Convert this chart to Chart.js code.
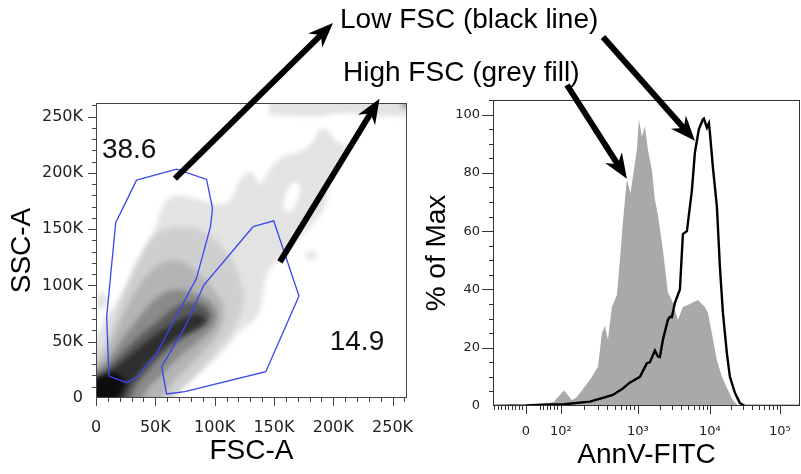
<!DOCTYPE html>
<html>
<head>
<meta charset="utf-8">
<title>FSC gating and AnnV-FITC</title>
<script src="https://cdn.jsdelivr.net/npm/chart.js@4.4.1/dist/chart.umd.min.js"></script>
<style>
  html, body { margin: 0; padding: 0; background: #fff; }
  #wrap { position: relative; width: 801px; height: 474px; overflow: hidden; }
  #wrap canvas { position: absolute; top: 0; }
  #scatter { left: 0; }
  #hist { left: 420px; }
  #overlay { left: 0; pointer-events: none; }
</style>
</head>
<body>
<div id="wrap">
  <canvas id="scatter" width="420" height="474"></canvas>
  <canvas id="hist" width="381" height="474"></canvas>
  <canvas id="overlay" width="801" height="474"></canvas>
</div>
<script>
// ---- FSC-A / SSC-A dot plot (values in thousands) ----
const fscMajor = [0, 50, 100, 150, 200, 250];
const fscLabels = ['0', '50K', '100K', '150K', '200K', '250K'];
const sscMajor = [0, 50, 100, 150, 200, 250];
const sscLabels = ['0', '50K', '100K', '150K', '200K', '250K'];
const linMinor = [10, 20, 30, 40, 60, 70, 80, 90, 110, 120, 130, 140, 160, 170, 180, 190, 210, 220, 230, 240, 260];

// density contours, lightest first
const densityOuter = [[-5, -5], [-5, 45], [3, 60], [10, 75], [18, 85], [26, 100], [38, 120], [46, 140], [52, 158],
  [58, 174], [68, 180], [80, 178], [95, 174], [107, 172], [115, 178], [121, 193], [131, 201], [138, 190], [148, 205],
  [157, 214], [169, 218], [180, 224], [188, 236], [196, 236], [203, 228], [211, 223], [205, 205], [197, 196],
  [194, 173], [183, 155], [169, 140], [157, 126], [145, 112], [141, 92], [139, 80], [132, 68], [122, 60],
  [110, 45], [97, 31], [80, 16], [66, 4], [60, -5]];
const densityTopBand = [[146, 252], [160, 251], [185, 250], [210, 253], [235, 251], [262, 250], [270, 250], [270, 270], [146, 270]];
const densityBlobA = [[176, 126], [179, 130], [184, 130], [186, 126], [183, 123], [178, 123]];
const densityBlobB = [[187, 234], [189, 238], [194, 238], [196, 234], [193, 230], [189, 230]];
const densityBlobC = [[0, 80], [1, 90], [5, 94], [9, 90], [8, 82], [4, 79]];
const densityHole = [[158, 175], [162, 186], [168, 192], [172, 188], [170, 176], [164, 166], [159, 166]];
const densityL2 = [[-5, -5], [-5, 28], [8, 50], [18, 78], [28, 105], [38, 128], [50, 145], [68, 152], [90, 148],
  [108, 132], [120, 110], [124, 85], [116, 62], [100, 40], [85, 22], [70, 6], [62, -5]];
const densityL3 = [[-5, -5], [-5, 22], [8, 40], [18, 62], [28, 85], [40, 105], [55, 120], [70, 122], [85, 112],
  [100, 95], [108, 80], [105, 62], [94, 46], [80, 30], [65, 14], [52, -5]];
const densityL4 = [[-5, -5], [-5, 18], [10, 34], [22, 52], [35, 70], [50, 88], [65, 96], [80, 94], [96, 86],
  [102, 74], [98, 62], [86, 50], [70, 36], [55, 20], [42, 6], [38, -5]];
const densityL5 = [[-5, -5], [-5, 14], [10, 27], [24, 42], [38, 56], [52, 68], [66, 80], [80, 85], [93, 80],
  [96, 70], [88, 62], [72, 52], [56, 38], [42, 22], [32, 8], [28, -5]];
const densityL6 = [[-5, -5], [-5, 11], [10, 22], [24, 34], [38, 46], [50, 56], [62, 64], [76, 72], [88, 74],
  [92, 68], [84, 62], [66, 52], [50, 38], [36, 22], [26, 8], [20, -5]];
const densityCorner = [[258.5, 259], [261.5, 259], [261.5, 262], [258.5, 262]];
const densityL7 = [[-5, -5], [-5, 12], [6, 20], [16, 22], [24, 14], [20, 3], [14, -5]];

const densityLevels = [
  [densityOuter, densityTopBand, densityBlobA, densityBlobB, densityBlobC],
  [densityHole],
  [densityL2], [densityL3], [densityL4], [densityL5], [densityL6, densityCorner], [densityL7]
];
const densityShades = ['#e3e3e3', '#ffffff', '#cfcfcf', '#b4b4b4', '#8a8a8a', '#5a5a5a', '#2e2e2e', '#0d0d0d'];

// gates
const gateLowFsc = [[34.2, 193.6], [67.9, 203.4], [93.2, 194.2], [98.2, 168.5], [96.5, 152.2], [84.7, 106.3],
  [51.1, 39.7], [34.2, 18.4], [25.8, 13.6], [10.9, 19.5], [9, 72.2], [16.6, 155.7], [34.2, 193.6]];
const gateHighFsc = [[132.4, 152.2], [149.8, 157.5], [171.1, 90.6], [143.1, 23.4], [74.9, 5.6], [59.5, 3.6],
  [55.3, 27.8], [74.9, 62.8], [90.9, 100.4], [132.4, 152.2]];
const gatePercents = ['38.6', '14.9'];
const gateLabelAt = [[5, 213], [197, 42.6]];

// ---- AnnV-FITC histograms: [intensity, % of max] ----
const annvHighFsc = [[-94, 0], [-40, 0.5], [0, 0.3], [40, 0.5], [60, 0.8], [80, 1.5], [95, 3.5], [109, 5.3],
  [125, 3.5], [139, 2], [160, 3], [177, 4.5], [238, 9], [261, 10.6], [303, 13.5], [341, 25], [373, 27.5],
  [408, 22.7], [459, 34], [533, 38], [583, 50], [638, 63], [719, 77.7], [800, 73], [861, 78.7], [970, 88],
  [1032, 98.3], [1136, 92.5], [1251, 96], [1377, 88], [1564, 81], [1722, 70.8], [1896, 65.6], [2224, 53.6],
  [2610, 39], [3061, 35.4], [3594, 29.6], [4217, 34], [5275, 35], [6813, 36.4], [8531, 34], [9382, 32],
  [10680, 25], [12590, 15.8], [14840, 10], [18070, 5.5], [21320, 2], [25120, 0.2], [30000, 0], [262144, 0]];
const annvLowFsc = [[-94, 0], [0, 0.2], [60, 0.5], [109, 0.6], [238, 1.5], [341, 2.7], [473, 3.8], [638, 6],
  [783, 8], [1066, 10], [1334, 14.7], [1468, 15], [1722, 19], [1896, 17], [2021, 16.8], [2224, 22.7],
  [2610, 29.6], [2783, 30.6], [2965, 30.5], [3263, 35.4], [3831, 40], [4217, 59], [4797, 60], [5623, 74],
  [6190, 87], [7031, 95], [7998, 98.3], [8254, 98.6], [9086, 95.5], [9687, 97], [10000, 93.8], [11030, 82],
  [12590, 68.4], [13890, 47.8], [15340, 32], [17500, 18], [19310, 10], [22760, 4.5], [26830, 1], [31620, 0],
  [262144, 0]];
const annvMajor = [0, 100, 1000, 10000, 100000];
const annvLabels = ['0', '10²', '10³', '10⁴', '10⁵'];
const annvMinor = [-90, -80, -70, -60, -50, -40, -30, -20, -10, 40, 50, 60, 70, 80, 90,
  200, 300, 400, 500, 600, 700, 800, 900, 2000, 3000, 4000, 5000, 6000, 7000, 8000, 9000,
  20000, 30000, 40000, 50000, 60000, 70000, 80000, 90000, 200000];
const pctMajor = [0, 20, 40, 60, 80, 100];
const pctMinor = [5, 10, 15, 25, 30, 35, 45, 50, 55, 65, 70, 75, 85, 90, 95, 105];

// biexponential-style display transform: linear near zero, log above 100
const BIEX_KNOTS = [[100, 35], [1000, 112], [10000, 184], [100000, 254], [1000000, 324]];
function biex(v) {
  if (v < 100) return v * 0.35;
  const lv = Math.log10(v);
  for (let i = 1; i < BIEX_KNOTS.length; i++) {
    const [v0, p0] = BIEX_KNOTS[i - 1];
    const [v1, p1] = BIEX_KNOTS[i];
    if (v <= v1) return p0 + (p1 - p0) * (lv - Math.log10(v0)) / (Math.log10(v1) - Math.log10(v0));
  }
  return BIEX_KNOTS[BIEX_KNOTS.length - 1][1];
}

const thousands = poly => poly.map(([x, y]) => ({ x: x * 1000, y: y * 1000 }));
const k = arr => arr.map(v => v * 1000);
const TICK_FONT = 'DejaVu Sans';
const TEXT_FONT = 'Liberation Sans';

// fixed axis boxes, no extra room for overhanging labels
function fixBox(size) {
  return s => {
    if (s.isHorizontal()) s.height = size; else s.width = size;
    s.paddingLeft = s.paddingRight = s.paddingTop = s.paddingBottom = 0;
  };
}

// frame + major/minor tick marks
const axisMarks = {
  id: 'axisMarks',
  afterDraw(chart, args, o) {
    const { ctx, chartArea: a, scales } = chart;
    ctx.save();
    ctx.strokeStyle = o.color;
    ctx.lineWidth = 1;
    ctx.strokeRect(a.left + 0.5, a.top + 0.5, a.right - a.left - 1, a.bottom - a.top - 1);
    ctx.beginPath();
    const xMarks = (vals, len) => vals.forEach(v => {
      const px = Math.round(scales.x.getPixelForValue(v)) + 0.5;
      if (px < a.left || px > a.right) return;
      ctx.moveTo(px, a.bottom);
      ctx.lineTo(px, a.bottom + len);
    });
    const yMarks = (vals, len) => vals.forEach(v => {
      const py = Math.round(scales.y.getPixelForValue(v)) + 0.5;
      if (py < a.top || py > a.bottom) return;
      ctx.moveTo(a.left, py);
      ctx.lineTo(a.left - len, py);
    });
    xMarks(o.xMajor, o.majorLen); xMarks(o.xMinor, o.minorLen);
    yMarks(o.yMajor, o.yMajorLen || o.majorLen); yMarks(o.yMinor, o.minorLen);
    ctx.stroke();
    ctx.restore();
  }
};

// soften the density contours, keep the gate outlines sharp
const softDensity = {
  id: 'softDensity',
  beforeDatasetsDraw(chart) { chart.ctx.save(); chart.ctx.filter = 'blur(2.5px)'; },
  beforeDatasetDraw(chart, args) {
    if (chart.data.datasets[args.index].isGate) chart.ctx.filter = 'none';
  },
  afterDatasetsDraw(chart) { chart.ctx.restore(); }
};

// gate percentages
const gateText = {
  id: 'gateText',
  afterDatasetsDraw(chart) {
    const { ctx, scales } = chart;
    ctx.save();
    ctx.fillStyle = '#111';
    ctx.font = '28px "' + TEXT_FONT + '"';
    ctx.textBaseline = 'alphabetic';
    gatePercents.forEach((t, i) => {
      ctx.fillText(t, scales.x.getPixelForValue(gateLabelAt[i][0] * 1000), scales.y.getPixelForValue(gateLabelAt[i][1] * 1000));
    });
    ctx.restore();
  }
};

const densitySets = [];
densityLevels.forEach((polys, i) => {
  polys.forEach(poly => densitySets.push({
    data: thousands(poly),
    showLine: true,
    fill: 'shape',
    backgroundColor: densityShades[i],
    borderColor: 'rgba(0,0,0,0)',
    borderWidth: 1,
    pointRadius: 0,
    tension: 0.4,
    order: 100 - i
  }));
});
[gateLowFsc, gateHighFsc].forEach(g => densitySets.push({
  data: thousands(g),
  isGate: true,
  showLine: true,
  fill: false,
  borderColor: '#3a44f0',
  borderWidth: 1.3,
  pointRadius: 0,
  tension: 0,
  order: 0
}));

const scatterChart = new Chart(document.getElementById('scatter'), {
  type: 'scatter',
  data: { datasets: densitySets },
  options: {
    responsive: false,
    animation: false,
    events: [],
    layout: { padding: { top: 103, right: 13, left: 0, bottom: 0 } },
    plugins: {
      legend: { display: false },
      tooltip: { enabled: false },
      axisMarks: { color: '#444', xMajor: k(fscMajor), xMinor: k(linMinor), yMajor: k(sscMajor), yMinor: k(linMinor), majorLen: 8, minorLen: 4 }
    },
    scales: {
      x: {
        type: 'linear', min: 0, max: 262144,
        afterBuildTicks: s => { s.ticks = k(fscMajor).map(v => ({ value: v })); },
        afterFit: fixBox(76),
        grid: { display: false, drawTicks: false },
        border: { display: false },
        ticks: { callback: (v, i) => fscLabels[i], font: { family: TICK_FONT, size: 16 }, color: '#222', padding: 20, maxRotation: 0, autoSkip: false },
        title: { display: true, text: 'FSC-A', font: { family: TEXT_FONT, size: 28 }, color: '#000', padding: { top: 0, bottom: 6 } }
      },
      y: {
        type: 'linear', min: 0, max: 262144,
        afterBuildTicks: s => { s.ticks = k(sscMajor).map(v => ({ value: v })); },
        afterFit: fixBox(96),
        grid: { display: false, drawTicks: false },
        border: { display: false },
        ticks: { callback: (v, i) => sscLabels[i], font: { family: TICK_FONT, size: 16 }, color: '#222', padding: 13, autoSkip: false },
        title: { display: true, text: 'SSC-A', font: { family: TEXT_FONT, size: 28 }, color: '#000', padding: { top: 5, bottom: 0 } }
      }
    }
  },
  plugins: [softDensity, axisMarks, gateText]
});

const histPoints = rows => rows.map(([v, p]) => ({ x: biex(v), y: p }));

const histChart = new Chart(document.getElementById('hist'), {
  type: 'scatter',
  data: {
    datasets: [
      { data: histPoints(annvLowFsc), showLine: true, fill: false, borderColor: '#000', borderWidth: 2.4, pointRadius: 0, tension: 0, order: 0 },
      { data: histPoints(annvHighFsc), showLine: true, fill: 'origin', backgroundColor: '#a9a9a9', borderColor: 'rgba(0,0,0,0)', borderWidth: 1, pointRadius: 0, tension: 0, order: 1 }
    ]
  },
  options: {
    responsive: false,
    animation: false,
    events: [],
    layout: { padding: { top: 100, right: 1, left: 0, bottom: 0 } },
    plugins: {
      legend: { display: false },
      tooltip: { enabled: false },
      axisMarks: { color: '#333', xMajor: annvMajor.map(biex), xMinor: annvMinor.map(biex), yMajor: pctMajor, yMinor: pctMinor, majorLen: 8, yMajorLen: 11, minorLen: 4 }
    },
    scales: {
      x: {
        type: 'linear', min: biex(-94), max: biex(-94) + 307,
        afterBuildTicks: s => { s.ticks = annvMajor.map(v => ({ value: biex(v) })); },
        afterFit: fixBox(68),
        grid: { display: false, drawTicks: false },
        border: { display: false },
        ticks: { callback: (v, i) => annvLabels[i], font: { family: TICK_FONT, size: 13 }, color: '#222', padding: 18, maxRotation: 0, autoSkip: false },
        title: { display: true, text: 'AnnV-FITC', font: { family: TEXT_FONT, size: 28 }, color: '#000', padding: { top: 0, bottom: 2 } }
      },
      y: {
        type: 'linear', min: 0, max: 105,
        afterBuildTicks: s => { s.ticks = pctMajor.map(v => ({ value: v })); },
        afterFit: fixBox(73),
        grid: { display: false, drawTicks: false },
        border: { display: false },
        ticks: { font: { family: TICK_FONT, size: 13 }, color: '#222', padding: 13, autoSkip: false },
        title: { display: true, text: '% of Max', font: { family: TEXT_FONT, size: 28 }, color: '#000', padding: { top: 0, bottom: 0 } }
      }
    }
  },
  plugins: [axisMarks]
});

// ---- population captions and arrows across both plots ----
const captionLow = 'Low FSC (black line)';
const captionHigh = 'High FSC (grey fill)';

function onPage(chart, offsetX, x, y) {
  return { x: offsetX + chart.scales.x.getPixelForValue(x), y: chart.scales.y.getPixelForValue(y) };
}

function arrow(ctx, from, to) {
  const dx = to.x - from.x, dy = to.y - from.y;
  const len = Math.hypot(dx, dy);
  const ux = dx / len, uy = dy / len;
  const headLen = 25, headHalf = 10, notch = 17;
  const bx = to.x - ux * notch, by = to.y - uy * notch;
  ctx.lineWidth = 6;
  ctx.beginPath();
  ctx.moveTo(from.x, from.y);
  ctx.lineTo(bx + ux * 2, by + uy * 2);
  ctx.stroke();
  ctx.beginPath();
  ctx.moveTo(to.x, to.y);
  ctx.lineTo(to.x - ux * headLen - uy * headHalf, to.y - uy * headLen + ux * headHalf);
  ctx.lineTo(bx, by);
  ctx.lineTo(to.x - ux * headLen + uy * headHalf, to.y - uy * headLen - ux * headHalf);
  ctx.closePath();
  ctx.fill();
}

const ov = document.getElementById('overlay').getContext('2d');
ov.fillStyle = '#000';
ov.strokeStyle = '#000';
ov.font = '28px "' + TEXT_FONT + '"';
ov.fillText(captionLow, 340, 28);
ov.fillText(captionHigh, 343, 81);

arrow(ov, onPage(scatterChart, 0, 66500, 195000), { x: 333, y: 23 });
arrow(ov, onPage(scatterChart, 0, 155000, 121000), onPage(scatterChart, 0, 239000, 266000));
arrow(ov, { x: 567, y: 85 }, onPage(histChart, 420, biex(720), 78));
arrow(ov, { x: 603, y: 37 }, onPage(histChart, 420, biex(6200), 91));
</script>
</body>
</html>
